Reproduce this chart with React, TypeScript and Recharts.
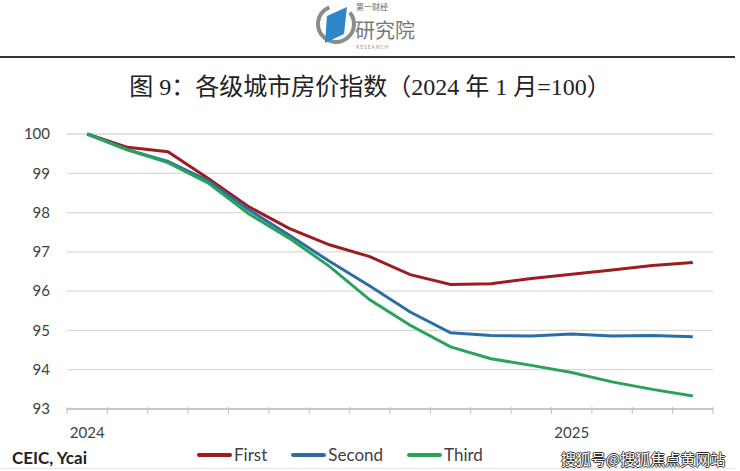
import React from "react";
import { LineChart, Line, XAxis, YAxis, CartesianGrid } from "recharts";

const months = [
  "2024-01", "2024-02", "2024-03", "2024-04", "2024-05", "2024-06", "2024-07", "2024-08",
  "2024-09", "2024-10", "2024-11", "2024-12", "2025-01", "2025-02", "2025-03", "2025-04",
];
const first = [100, 99.66, 99.55, 98.87, 98.15, 97.6, 97.18, 96.88, 96.42, 96.17, 96.19, 96.32, 96.43, 96.54, 96.65, 96.73];
const second = [100, 99.6, 99.3, 98.81, 98.07, 97.43, 96.76, 96.13, 95.47, 94.94, 94.87, 94.86, 94.91, 94.86, 94.87, 94.84];
const third = [100, 99.6, 99.27, 98.75, 97.97, 97.35, 96.63, 95.78, 95.13, 94.58, 94.28, 94.11, 93.93, 93.69, 93.5, 93.33];
const yTicks = [93, 94, 95, 96, 97, 98, 99, 100];

const series = [
  { key: "First", values: first, color: "#9c1c1f" },
  { key: "Second", values: second, color: "#2e6da4" },
  { key: "Third", values: third, color: "#27a35a" },
];

const data = months.map((m, i) => {
  const row: Record<string, any> = { month: m };
  series.forEach((s) => (row[s.key] = s.values[i]));
  return row;
});

const W = 740;
const H = 471;
const LEFT = 67;
const RIGHT = 27;
const BAND = (W - LEFT - RIGHT) / months.length;
const sans = "Lato, 'Open Sans', 'Noto Sans CJK SC', sans-serif";

// tick marks sit on the band edges, the year label on January's band
function XTick(props: any) {
  const { x, y, payload, index, visibleTicksCount } = props;
  const m: string = payload.value;
  const isJan = m.endsWith("-01");
  return (
    <g>
      <line x1={x - BAND / 2} x2={x - BAND / 2} y1={y - 10} y2={y - 3} stroke="#bfbfbf" />
      {index === visibleTicksCount - 1 && (
        <line x1={x + BAND / 2} x2={x + BAND / 2} y1={y - 10} y2={y - 3} stroke="#bfbfbf" />
      )}
      {isJan && (
        <text x={x} y={y + 15} textAnchor="middle" dominantBaseline="central" fontSize={15} fill="#404040" fontFamily={sans}>
          {m.slice(0, 4)}
        </text>
      )}
    </g>
  );
}

function LegendBox() {
  return (
    <div
      style={{
        position: "absolute", left: 197, top: 444, display: "flex", alignItems: "center",
        fontFamily: sans, fontSize: 17, color: "#404040",
      }}
    >
      {series.map((s) => (
        <div key={s.key} style={{ display: "flex", alignItems: "center", marginRight: 24 }}>
          <div style={{ width: 35, height: 4, background: s.color, borderRadius: 2, marginRight: 2 }} />
          <span>{s.key}</span>
        </div>
      ))}
    </div>
  );
}

function Logo() {
  return (
    <svg width={130} height={54} style={{ position: "absolute", left: 314, top: 0 }}>
      <circle cx={22} cy={24} r={18} fill="none" stroke="#8c8c8c" strokeWidth={4} strokeDasharray="90 23" transform="rotate(-40 22 24)" />
      <path d="M 13 16 L 33 7 L 30 34 L 11 43 Z" fill="#2f86c8" />
      <text x={42} y={10} fontSize={8} fill="#666" fontFamily="'Noto Sans CJK SC'">第一财经</text>
      <text x={41} y={38} fontSize={20} fill="#777" fontFamily="'Noto Sans CJK SC'">研究院</text>
      <text x={42} y={49} fontSize={5} fill="#999" fontFamily={sans} letterSpacing={1}>RESEARCH</text>
    </svg>
  );
}

export default function App() {
  return (
    <div style={{ position: "absolute", left: 0, top: 0, width: W, height: H, background: "#fff", overflow: "hidden" }}>
      <Logo />
      <div style={{ position: "absolute", left: 0, top: 56, width: 735, height: 2, background: "#333" }} />
      <div
        style={{
          position: "absolute", left: 0, top: 73, width: W, textAlign: "center",
          fontFamily: "'Liberation Serif', 'Noto Sans CJK SC', serif", fontSize: 24, lineHeight: "28px", color: "#222",
        }}
      >
        图 9：各级城市房价指数（2024 年 1 月=100）
      </div>
      <LineChart width={W} height={H} data={data} margin={{ top: 134, right: RIGHT, left: 0, bottom: 0 }}>
        <CartesianGrid vertical={false} stroke="#d9d9d9" strokeWidth={1.3} />
        <XAxis
          dataKey="month"
          interval={0}
          height={62}
          padding={{ left: BAND / 2, right: BAND / 2 }}
          axisLine={{ stroke: "#bfbfbf", strokeWidth: 1.3 }}
          tickLine={false}
          tick={<XTick />}
        />
        <YAxis
          domain={[93, 100]}
          ticks={yTicks}
          width={LEFT}
          axisLine={false}
          tickLine={false}
          tickMargin={11}
          tick={{ fontSize: 15, fill: "#404040", fontFamily: sans }}
        />
        {series.map((s) => (
          <Line
            key={s.key}
            dataKey={s.key}
            stroke={s.color}
            strokeWidth={3}
            dot={false}
            isAnimationActive={false}
          />
        ))}
      </LineChart>
      <LegendBox />
      <div style={{ position: "absolute", left: 12, top: 447, fontFamily: sans, fontWeight: 700, fontSize: 17, color: "#222" }}>
        CEIC, Ycai
      </div>
      <div
        style={{
          position: "absolute", left: 561, top: 448, fontFamily: "'Noto Sans CJK SC'", fontSize: 15, color: "#fff",
          textShadow: "1px 0 #333, -1px 0 #333, 0 1px #333, 0 -1px #333",
        }}
      >
        搜狐号@搜狐焦点黄网站
      </div>
      <div style={{ position: "absolute", left: 0, top: 468, width: 735, height: 1, background: "#e6e6e6" }} />
    </div>
  );
}
